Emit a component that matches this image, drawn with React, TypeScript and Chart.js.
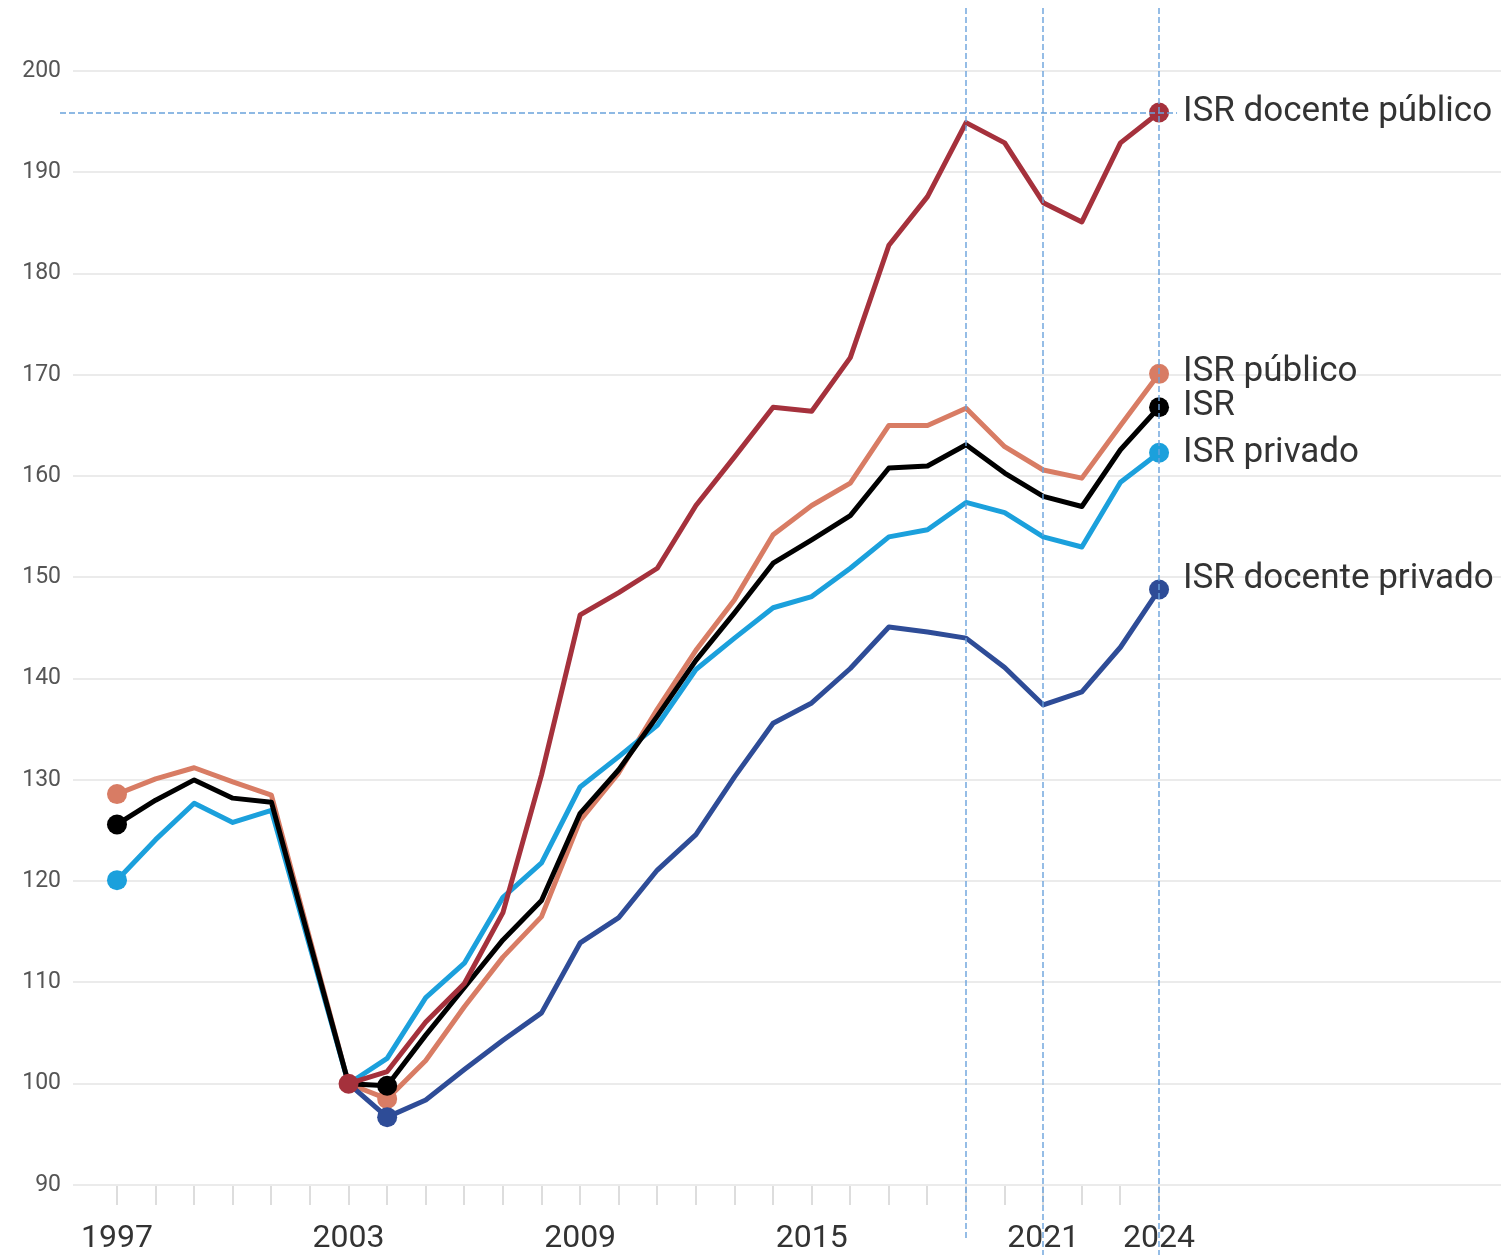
import React, { useEffect, useRef } from "react";
import { Chart, registerables } from "chart.js";

Chart.register(...registerables);

const years = [1997, 1998, 1999, 2000, 2001, 2002, 2003, 2004, 2005, 2006, 2007, 2008, 2009, 2010, 2011, 2012, 2013, 2014, 2015, 2016, 2017, 2018, 2019, 2020, 2021, 2022, 2023, 2024];
const labelYears = [1997, 2003, 2009, 2015, 2021, 2024];
const yTicks = [90, 100, 110, 120, 130, 140, 150, 160, 170, 180, 190, 200];
const refYears = [2019, 2021, 2024];

const isrDocentePublico = [null, null, null, null, null, null, 100, 101.2, 106.1, 109.9, 116.9, 130.5, 146.3, 148.5, 150.9, 157.1, 161.9, 166.8, 166.4, 171.7, 182.8, 187.6, 194.9, 192.9, 187.0, 185.1, 192.9, 195.9];
const isrPublico = [128.6, 130.1, 131.2, 129.8, 128.5, null, 100, 98.5, 102.3, 107.6, 112.5, 116.5, 126.0, 130.7, 137.0, 142.8, 147.8, 154.2, 157.1, 159.3, 165.0, 165.0, 166.7, 162.9, 160.6, 159.8, 165.0, 170.1];
const isr = [125.6, 128.0, 130.0, 128.2, 127.8, null, 100, 99.8, 104.8, 109.5, 114.2, 118.1, 126.7, 131.0, 136.3, 141.8, 146.5, 151.4, 153.7, 156.1, 160.8, 161.0, 163.1, 160.3, 158.0, 157.0, 162.6, 166.8];
const isrPrivado = [120.1, 124.1, 127.7, 125.8, 127.0, null, 100, 102.5, 108.5, 111.9, 118.4, 121.8, 129.3, 132.3, 135.4, 140.9, 144.0, 147.0, 148.1, 150.9, 154.0, 154.7, 157.4, 156.4, 154.0, 153.0, 159.4, 162.3];
const isrDocentePrivado = [null, null, null, null, null, null, 100, 96.7, 98.4, 101.4, 104.3, 107.0, 113.9, 116.4, 121.1, 124.6, 130.3, 135.6, 137.6, 141.0, 145.1, 144.6, 144.0, 141.1, 137.4, 138.7, 143.1, 148.8];

const seriesNames = ["ISR docente público", "ISR público", "ISR", "ISR privado", "ISR docente privado"];
const seriesValues = [isrDocentePublico, isrPublico, isr, isrPrivado, isrDocentePrivado];
const markerYears = [[2003, 2024], [1997, 2004, 2024], [1997, 2004, 2024], [1997, 2024], [2004, 2024]];

const seriesColors = ["#a5313c", "#d87c64", "#000000", "#1ba0dc", "#2e4c97"];
const seriesOrder = [0, 4, 1, 3, 2];
const labelDy = [0, -2, -1, 0, -10];

export default function App() {
  const ref = useRef<HTMLCanvasElement | null>(null);

  useEffect(() => {
    document.body.style.margin = "0";
    const canvas = ref.current;
    if (!canvas) return;

    const datasets = seriesNames.map((name, i) => ({
      label: name,
      data: years.map((yr, j) => ({ x: yr, y: seriesValues[i][j] })),
      borderColor: seriesColors[i],
      backgroundColor: seriesColors[i],
      borderWidth: 5,
      pointRadius: (ctx: any) => (markerYears[i].includes(years[ctx.dataIndex]) ? 10 : 0),
      pointHoverRadius: 0,
      pointBorderWidth: 0,
      spanGaps: true,
      tension: 0,
      order: seriesOrder[i],
      borderJoinStyle: "round" as const,
    }));

    const overlay = {
      id: "overlay",
      afterDatasetsDraw(chart: any) {
        const c = chart.ctx;
        const xs = chart.scales.x;
        const ys = chart.scales.y;
        c.save();
        c.strokeStyle = "#6aa2dc";
        c.lineWidth = 1.4;
        c.setLineDash([6, 3]);
        refYears.forEach((yr, k) => {
          const px = Math.round(xs.getPixelForValue(yr));
          c.beginPath();
          c.moveTo(px, 8);
          c.lineTo(px, k === 0 ? 1238 : 1255);
          c.stroke();
        });
        const last = years.length - 1;
        const hy = Math.round(ys.getPixelForValue(isrDocentePublico[last] as number));
        c.beginPath();
        c.moveTo(60, hy);
        c.lineTo(xs.getPixelForValue(years[last]) + 18, hy);
        c.stroke();
        c.setLineDash([]);

        c.fillStyle = "#333333";
        c.font = "35px Roboto";
        c.textBaseline = "middle";
        c.textAlign = "left";
        seriesNames.forEach((name, i) => {
          const v = seriesValues[i][last] as number;
          const px = xs.getPixelForValue(years[last]) + 24;
          const py = ys.getPixelForValue(v) + labelDy[i];
          c.fillText(name, px, py);
        });
        c.restore();
      },
    };

    const chart = new Chart(canvas, {
      type: "line",
      data: { datasets: datasets as any },
      options: {
        animation: false,
        responsive: false,
        maintainAspectRatio: false,
        events: [],
        layout: { autoPadding: false, padding: { top: 71, left: 0, right: 0, bottom: 0 } },
        plugins: { legend: { display: false }, tooltip: { enabled: false } },
        scales: {
          x: {
            type: "linear",
            min: 1995.86,
            max: 2032.86,
            afterFit: (s: any) => {
              s.height = 70;
              s.paddingLeft = 0;
              s.paddingRight = 0;
            },
            afterBuildTicks: (s: any) => {
              s.ticks = years.map((v) => ({ value: v }));
            },
            border: { display: false },
            grid: {
              drawOnChartArea: false,
              drawTicks: true,
              tickLength: 20,
              color: "#dddddd",
              lineWidth: 2,
            },
            ticks: {
              autoSkip: false,
              maxRotation: 0,
              padding: 15,
              color: "#333333",
              font: { family: "Roboto", size: 32 },
              callback: (v: any) => (labelYears.includes(Number(v)) ? String(v) : ""),
            },
          },
          y: {
            type: "linear",
            min: 90,
            max: 200,
            afterFit: (s: any) => {
              s.width = 73;
              s.paddingTop = 0;
              s.paddingBottom = 0;
            },
            afterBuildTicks: (s: any) => {
              s.ticks = yTicks.map((v) => ({ value: v }));
            },
            border: { display: false },
            grid: { color: "#ebebeb", lineWidth: 2, drawTicks: false },
            ticks: {
              padding: 12,
              color: "#555555",
              font: { family: "Roboto", size: 23 },
            },
          },
        },
      },
      plugins: [overlay],
    });

    return () => chart.destroy();
  }, []);

  return (
    <div style={{ position: "relative", width: 1501, height: 1255, background: "#ffffff" }}>
      <canvas ref={ref} width={1501} height={1255} style={{ display: "block", width: 1501, height: 1255 }} />
    </div>
  );
}
